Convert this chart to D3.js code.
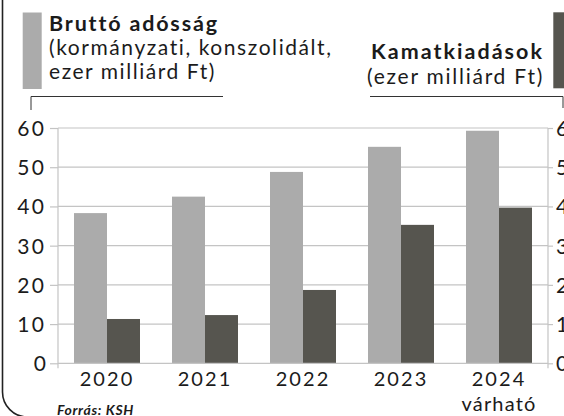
<!DOCTYPE html>
<html><head><meta charset="utf-8">
<script src="https://cdn.jsdelivr.net/npm/d3@7"></script>
<style>
html,body{margin:0;padding:0;background:#fff;}
svg{display:block;font-family:Lato,"Open Sans",sans-serif;}
</style></head>
<body>
<svg id="c" width="564" height="416"></svg>
<script>
const categories = ["2020", "2021", "2022", "2023", "2024"];
const categorySub = ["", "", "", "", "várható"];
const debtValues = [38.3, 42.5, 48.8, 55.2, 59.3];
const interestValues = [11.3, 12.3, 18.7, 35.3, 39.7];
const yTicks = [0, 10, 20, 30, 40, 50, 60];
const seriesNames = ["Bruttó adósság", "Kamatkiadások"];
const leftSubtitle = ["(kormányzati, konszolidált,", "ezer milliárd Ft)"];
const rightSubtitle = ["(ezer milliárd Ft)"];
const source = "Forrás: KSH";
const colors = ["#ababab", "#56554f"];

const svg = d3.select("#c");
const plot = {l: 58, r: 548, t: 128, b: 363.3};
const textColor = "#1b1b1b";
const gridColor = "#c4c4c4";

// widen text to a target width via letter-spacing (the original face is wider than Lato)
function fit(sel, target) {
  sel.each(function() {
    const n = this.textContent.length;
    const w = this.getComputedTextLength();
    d3.select(this).attr("letter-spacing", ((target - w) / n).toFixed(2));
  });
  return sel;
}

const x = d3.scaleBand().domain(categories).range([plot.l, plot.r]);
const inner = d3.scaleBand().domain([0, 1]).range([0, x.bandwidth()]).paddingOuter(0.485).paddingInner(0);
const y = d3.scaleLinear().domain([0, 60]).range([plot.b, plot.t]);

// frame
svg.append("path")
  .attr("d", "M2.5,-2 V392 A25,25 0 0 0 27.5,417")
  .attr("fill", "none").attr("stroke", "#222").attr("stroke-width", 1.6);

// gridlines
svg.append("g").selectAll("line").data(yTicks.filter(d => d > 0)).join("line")
  .attr("x1", plot.l).attr("x2", plot.r)
  .attr("y1", d => y(d)).attr("y2", d => y(d))
  .attr("stroke", gridColor).attr("stroke-width", 1.2);

// bars
const g = svg.append("g");
categories.forEach((c, i) => {
  [debtValues[i], interestValues[i]].forEach((v, s) => {
    g.append("rect")
      .attr("x", x(c) + inner(s))
      .attr("width", inner.bandwidth())
      .attr("y", y(v))
      .attr("height", y(0) - y(v))
      .attr("fill", colors[s]);
  });
});

// axes
const leftAxis = d3.axisLeft(y).tickValues(yTicks).tickSize(8).tickPadding(4).tickFormat(d3.format("d"));
const gl = svg.append("g").attr("transform", `translate(${plot.l},0)`).call(leftAxis);
const rightAxis = d3.axisRight(y).tickValues(yTicks).tickSize(5).tickPadding(3).tickFormat(d3.format("d"));
const gr = svg.append("g").attr("transform", `translate(${plot.r},0)`).call(rightAxis);
[gl, gr].forEach(a => {
  a.select(".domain").attr("stroke", gridColor).attr("stroke-width", 1.2)
    .attr("d", `M0,${plot.t}V${plot.b + 5}`);
  a.selectAll(".tick line").attr("stroke", gridColor).attr("stroke-width", 1.2);
  a.selectAll(".tick text").attr("fill", textColor).attr("font-size", 21)
    .attr("font-family", "Lato").attr("dy", "0.36em");
});
gl.selectAll(".tick text").filter(d => d >= 10).call(fit, 28.7);
gr.selectAll(".tick text").filter(d => d >= 10).call(fit, 28.7);
// x baseline
svg.append("line").attr("x1", plot.l).attr("x2", plot.r)
  .attr("y1", y(0)).attr("y2", y(0)).attr("stroke", gridColor).attr("stroke-width", 1.2);

// x labels
const xl = svg.append("g");
categories.forEach((c, i) => {
  xl.append("text").attr("x", x(c) + x.bandwidth() / 2).attr("y", 386)
    .attr("text-anchor", "middle").attr("font-size", 20)
    .attr("fill", textColor).text(c).call(fit, 54.7);
  if (categorySub[i]) {
    xl.append("text").attr("x", x(c) + x.bandwidth() / 2).attr("y", 411)
      .attr("text-anchor", "middle").attr("font-size", 20)
      .attr("fill", textColor).text(categorySub[i]).call(fit, 75);
  }
});

// legend left
svg.append("rect").attr("x", 22.7).attr("y", 12.5).attr("width", 19).attr("height", 76.5).attr("fill", colors[0]);
svg.append("text").attr("x", 49).attr("y", 30.5).attr("font-size", 21.5).attr("font-weight", 700)
  .attr("fill", textColor).text(seriesNames[0]).call(fit, 169);
const leftW = [284, 167];
leftSubtitle.forEach((t, i) => {
  svg.append("text").attr("x", 49).attr("y", 54.5 + i * 24.5).attr("font-size", 21)
    .attr("fill", textColor).text(t).call(fit, leftW[i]);
});
svg.append("path").attr("d", "M31,110 V96.5 H223")
  .attr("fill", "none").attr("stroke", "#333").attr("stroke-width", 1);

// legend right
svg.append("rect").attr("x", 553.3).attr("y", 12.3).attr("width", 20).attr("height", 76).attr("fill", colors[1]);
svg.append("text").attr("x", 544).attr("y", 58.5).attr("font-size", 21.5).attr("font-weight", 700)
  .attr("text-anchor", "end").attr("fill", textColor).text(seriesNames[1]).call(fit, 173);
rightSubtitle.forEach((t, i) => {
  svg.append("text").attr("x", 544).attr("y", 84 + i * 24.5).attr("font-size", 21)
    .attr("text-anchor", "end").attr("fill", textColor).text(t).call(fit, 177);
});
svg.append("path").attr("d", "M370,96.5 H563 V108")
  .attr("fill", "none").attr("stroke", "#333").attr("stroke-width", 1);

// source
svg.append("text").attr("x", 57).attr("y", 415).attr("font-size", 14).attr("font-weight", 700)
  .attr("font-style", "italic").attr("fill", textColor).text(source).call(fit, 77);
</script>
</body></html>
